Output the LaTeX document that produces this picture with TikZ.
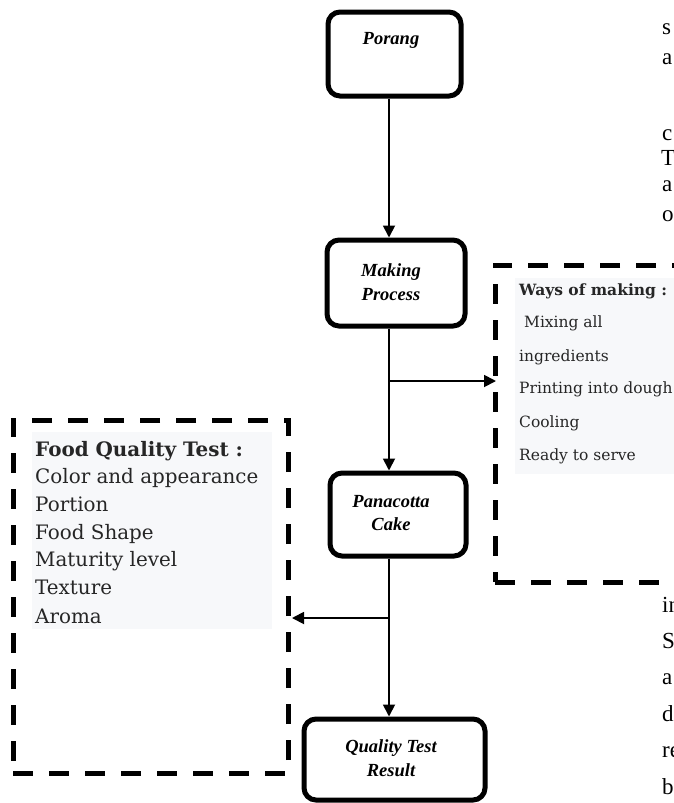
\documentclass[tikz,border=0pt]{standalone}
\usepackage{fontspec}
\setmainfont{Liberation Serif}
\newfontfamily\cambfont{DejaVu Serif}
\usetikzlibrary{arrows.meta}
\definecolor{bgc}{RGB}{247,248,250}
\begin{document}
\begin{tikzpicture}[x=1pt,y=-1pt,
  flowbox/.style={draw, line width=5pt, rounded corners=12pt, fill=white, inner sep=0pt},
  flowtxt/.style={font=\fontsize{18.5}{23.5}\selectfont\bfseries\itshape, align=center, inner sep=0pt},
  conn/.style={line width=1.8pt, -{Triangle[width=12pt,length=12pt]}},
  dashbox/.style={draw, line width=5pt, dash pattern=on 20pt off 16pt, inner sep=0pt, outer sep=0pt},
  wtxt/.style={font=\cambfont\fontsize{15.5}{18}\selectfont, anchor=base west, inner sep=0pt, text=black!85},
  qtxt/.style={font=\cambfont\fontsize{19.9}{22}\selectfont, anchor=base west, inner sep=0pt, text=black!85},
  stray/.style={font=\fontsize{23}{26}\selectfont, anchor=base west, inner sep=0pt}
]
\useasboundingbox (0,0) rectangle (674,803);

% backgrounds of the text lists
\fill[bgc] (515,278) rectangle (680,474);
\fill[bgc] (32,432) rectangle (272,629);

% dashed boxes
\node[dashbox, minimum width=210pt, minimum height=317pt] (ways) at (600,423.5) {};
\node[dashbox, minimum width=275pt, minimum height=353pt] (qtest) at (150.5,596.5) {};

% flow boxes
\node[flowbox, minimum width=133pt, minimum height=84pt] (porang) at (394.5,54) {};
\node[flowbox, minimum width=138pt, minimum height=86pt] (making) at (396,283) {};
\node[flowbox, minimum width=136pt, minimum height=83pt] (pana) at (398,514.5) {};
\node[flowbox, minimum width=181pt, minimum height=81pt] (result) at (394.5,759.5) {};

\node[flowtxt] (tporang) at (391,40) {Porang};
\node[flowtxt] (tmaking) at (391,282) {Making\\Process};
\node[flowtxt] (tpana) at (391,513) {Panacotta\\Cake};
\node[flowtxt] (tresult) at (391,758) {Quality Test\\Result};

% connectors
\coordinate (axis) at (389,0);
\coordinate (b1) at (389,381);
\coordinate (b2) at (389,618);
\draw[conn] (porang.south -| axis) -- (making.north -| axis);
\draw[conn] (making.south -| axis) -- (pana.north -| axis);
\draw[conn] (pana.south -| axis) -- (result.north -| axis);
\draw[conn] (b1) -- ([xshift=1pt]b1 -| ways.west);
\draw[conn] (b2) -- ([xshift=4pt]b2 -| qtest.east);

% Ways of making list
\node[wtxt, font=\cambfont\fontsize{15.5}{18}\selectfont\bfseries] (w0) at (519,295) {Ways of making :};
\node[wtxt] (w1) at (519,327) {\ Mixing all};
\node[wtxt] (w2) at (519,361) {ingredients};
\node[wtxt] (w3) at (519,393) {Printing into dough};
\node[wtxt] (w4) at (519,427) {Cooling};
\node[wtxt] (w5) at (519,460) {Ready to serve};

% Food quality test list
\node[qtxt, font=\cambfont\fontsize{19.9}{22}\selectfont\bfseries] (q0) at (35,456) {Food Quality Test :};
\node[qtxt] (q1) at (35,483) {Color and appearance};
\node[qtxt] (q2) at (35,511) {Portion};
\node[qtxt] (q3) at (35,539) {Food Shape};
\node[qtxt] (q4) at (35,566) {Maturity level};
\node[qtxt] (q5) at (35,594) {Texture};
\node[qtxt] (q6) at (35,623) {Aroma};

% fragments of the surrounding page text
\node[stray] (s1) at (662,34) {s};
\node[stray] (s2) at (662,64) {a};
\node[stray] (s3) at (662,140) {c};
\node[stray] (s4) at (661,165) {T};
\node[stray] (s5) at (662,191) {a};
\node[stray] (s6) at (662,221) {o};
\node[stray] (s7) at (662,612) {in};
\node[stray] (s8) at (662,648) {S};
\node[stray] (s9) at (662,684) {a};
\node[stray] (s10) at (662,721) {d};
\node[stray] (s11) at (662,757) {re};
\node[stray] (s12) at (662,794) {b};
\end{tikzpicture}
\end{document}
